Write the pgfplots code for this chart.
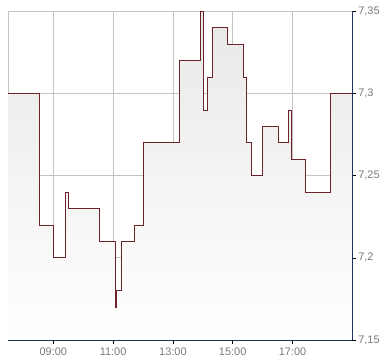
\documentclass[border=0pt]{standalone}
\usepackage{pgfplots}
\pgfplotsset{compat=1.18}
\usepackage{fontspec}
\setmainfont{Liberation Sans}
\definecolor{linered}{HTML}{6E2229}
\definecolor{navy}{HTML}{1F3560}
\definecolor{gridgray}{HTML}{C4C4C4}
\definecolor{labgray}{HTML}{7A7A7A}
\begin{document}
\begin{tikzpicture}
\path[use as bounding box] (-8bp,-24bp) rectangle (382bp,340bp);
\begin{axis}[
  at={(0,0)}, anchor=south west,
  scale only axis, width=344.3bp, height=328.7bp,
  xmin=7.485, xmax=19.0, ymin=7.15, ymax=7.35,
  axis x line*=bottom, axis y line*=right,
  axis line style={navy, line width=0.8pt},
  xtick={9,11,13,15,17},
  xticklabels={09:00,11:00,13:00,15:00,17:00},
  ytick={7.15,7.2,7.25,7.3,7.35},
  yticklabels={{7,15},{7,2},{7,25},{7,3},{7,35}},
  tick align=outside, major tick length=3.5bp,
  tick style={black, line width=0.6pt},
  grid=major, major grid style={gridgray, line width=0.7pt},
  ticklabel style={font=\fontsize{11}{13}\selectfont, text=labgray},
  xticklabel style={yshift=-1bp},
  yticklabel style={xshift=-1bp},
  clip=true,
]
\path[draw=gridgray, line width=0.8pt] (rel axis cs:0,0) -- (rel axis cs:0,1) -- (rel axis cs:1,1);
\addplot[const plot, draw=none, top color=black!9, bottom color=white, area legend] coordinates {
(7.485,7.30) (8.532,7.22) (9.0,7.20) (9.401,7.24) (9.502,7.23) (10.528,7.21)
(11.064,7.17) (11.12,7.18) (11.264,7.21) (11.709,7.22) (12.01,7.27) (13.214,7.32)
(13.906,7.35) (14.017,7.29) (14.164,7.31) (14.318,7.34) (14.819,7.33) (15.355,7.31)
(15.445,7.27) (15.622,7.25) (15.99,7.28) (16.525,7.27) (16.86,7.29) (16.96,7.26)
(17.428,7.24) (18.264,7.30) (19.0,7.30)
} \closedcycle;
\addplot[const plot, draw=linered, line width=0.8pt, mark=none] coordinates {
(7.485,7.30) (8.532,7.22) (9.0,7.20) (9.401,7.24) (9.502,7.23) (10.528,7.21)
(11.064,7.17) (11.12,7.18) (11.264,7.21) (11.709,7.22) (12.01,7.27) (13.214,7.32)
(13.906,7.35) (14.017,7.29) (14.164,7.31) (14.318,7.34) (14.819,7.33) (15.355,7.31)
(15.445,7.27) (15.622,7.25) (15.99,7.28) (16.525,7.27) (16.86,7.29) (16.96,7.26)
(17.428,7.24) (18.264,7.30) (19.0,7.30)
};
\end{axis}
\end{tikzpicture}
\end{document}
